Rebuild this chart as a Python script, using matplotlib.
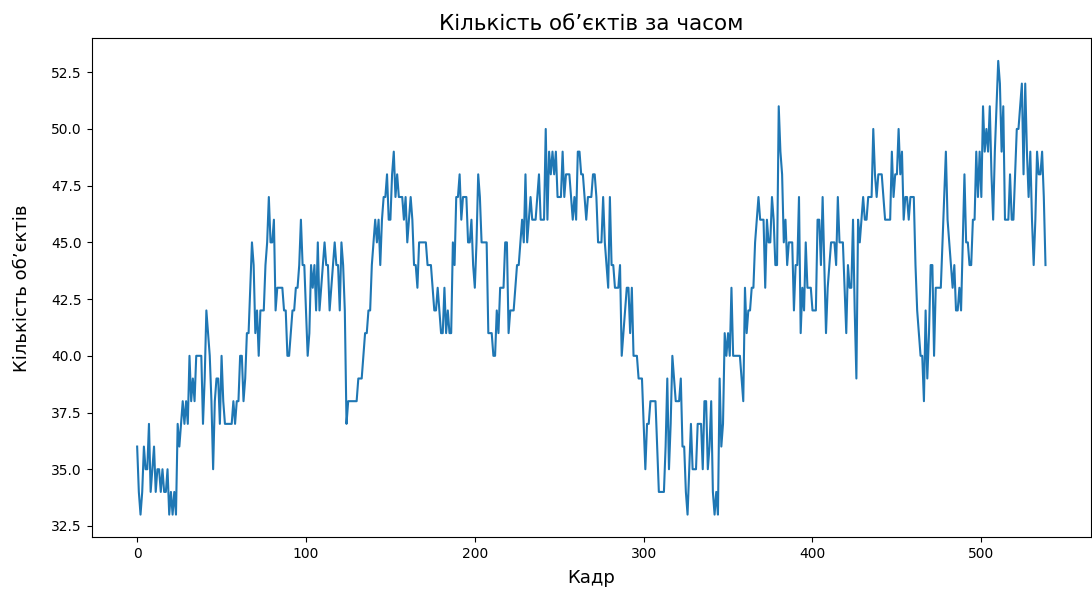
import numpy as np
import matplotlib
matplotlib.use("Agg")
import matplotlib.pyplot as plt

# кількість об'єктів у кожному кадрі
counts = [
    36, 34, 33, 34, 36, 35, 35, 37, 34, 35,
    36, 34, 35, 35, 34, 35, 34, 34, 35, 33,
    34, 33, 34, 33, 37, 36, 37, 38, 37, 38,
    37, 40, 38, 39, 38, 40, 40, 40, 40, 37,
    39, 42, 41, 40, 38, 35, 38, 39, 39, 37,
    40, 38, 37, 37, 37, 37, 37, 38, 37, 38,
    38, 40, 40, 38, 39, 41, 41, 43, 45, 44,
    41, 42, 40, 42, 42, 42, 44, 45, 47, 45,
    45, 46, 42, 43, 43, 43, 43, 42, 42, 40,
    40, 41, 42, 42, 43, 43, 44, 46, 44, 44,
    42, 40, 41, 44, 43, 44, 42, 45, 42, 43,
    44, 45, 44, 44, 42, 43, 44, 45, 44, 44,
    42, 45, 44, 42, 37, 38, 38, 38, 38, 38,
    38, 39, 39, 39, 40, 41, 41, 42, 42, 44,
    45, 46, 45, 46, 44, 46, 47, 47, 48, 46,
    46, 48, 49, 47, 48, 47, 47, 47, 46, 47,
    45, 46, 47, 46, 44, 44, 43, 45, 45, 45,
    45, 45, 44, 44, 44, 43, 42, 42, 43, 42,
    41, 41, 43, 41, 42, 41, 41, 45, 44, 47,
    47, 48, 46, 47, 47, 47, 45, 45, 46, 44,
    43, 45, 48, 47, 45, 45, 45, 45, 41, 41,
    41, 40, 40, 42, 41, 43, 43, 43, 45, 45,
    41, 42, 42, 42, 43, 44, 44, 45, 46, 45,
    48, 45, 46, 47, 46, 46, 46, 47, 48, 46,
    46, 46, 50, 46, 49, 48, 49, 48, 49, 47,
    47, 47, 49, 47, 48, 48, 48, 47, 46, 47,
    46, 49, 49, 48, 48, 47, 46, 47, 47, 47,
    48, 48, 47, 45, 45, 45, 47, 45, 44, 43,
    47, 44, 44, 43, 43, 43, 44, 40, 41, 42,
    43, 43, 41, 43, 40, 40, 40, 39, 39, 39,
    37, 35, 37, 37, 38, 38, 38, 38, 36, 34,
    34, 34, 34, 36, 39, 35, 37, 40, 39, 38,
    38, 38, 39, 36, 36, 34, 33, 35, 37, 35,
    35, 35, 37, 37, 37, 35, 38, 38, 35, 36,
    38, 34, 33, 34, 33, 39, 36, 37, 41, 40,
    41, 40, 43, 40, 40, 40, 40, 40, 39, 38,
    43, 41, 42, 42, 43, 43, 45, 46, 47, 46,
    46, 46, 43, 46, 45, 45, 47, 46, 44, 44,
    51, 49, 48, 45, 46, 44, 45, 45, 45, 42,
    44, 44, 47, 41, 43, 42, 45, 43, 43, 43,
    42, 42, 42, 46, 46, 44, 47, 44, 41, 43,
    44, 45, 45, 45, 44, 47, 45, 45, 45, 43,
    41, 44, 43, 43, 46, 42, 39, 46, 45, 46,
    47, 46, 46, 47, 47, 47, 50, 48, 47, 48,
    48, 48, 47, 46, 46, 46, 46, 49, 47, 48,
    48, 50, 48, 49, 46, 47, 47, 46, 47, 47,
    47, 44, 42, 41, 40, 40, 38, 42, 39, 41,
    44, 44, 40, 43, 43, 43, 43, 45, 47, 49,
    46, 45, 44, 43, 44, 42, 42, 43, 42, 45,
    48, 45, 45, 44, 44, 46, 46, 49, 47, 49,
    47, 51, 49, 50, 49, 51, 48, 46, 49, 51,
    53, 52, 49, 51, 46, 46, 46, 48, 46, 46,
    48, 50, 50, 51, 52, 48, 52, 49, 47, 49,
    46, 44, 46, 49, 48, 48, 49, 47, 44,
]
frames = np.arange(len(counts))

fig, ax = plt.subplots(figsize=(10.92, 5.97), dpi=100)
fig.subplots_adjust(left=0.084, right=0.999, top=0.936, bottom=0.1)
ax.plot(frames, counts)
ax.set_title("Кількість об’єктів за часом", fontsize=15.5)
ax.set_xlabel("Кадр", fontsize=13, labelpad=6)
ax.set_ylabel("Кількість об’єктів", fontsize=13, labelpad=15)
plt.savefig("out.png")
